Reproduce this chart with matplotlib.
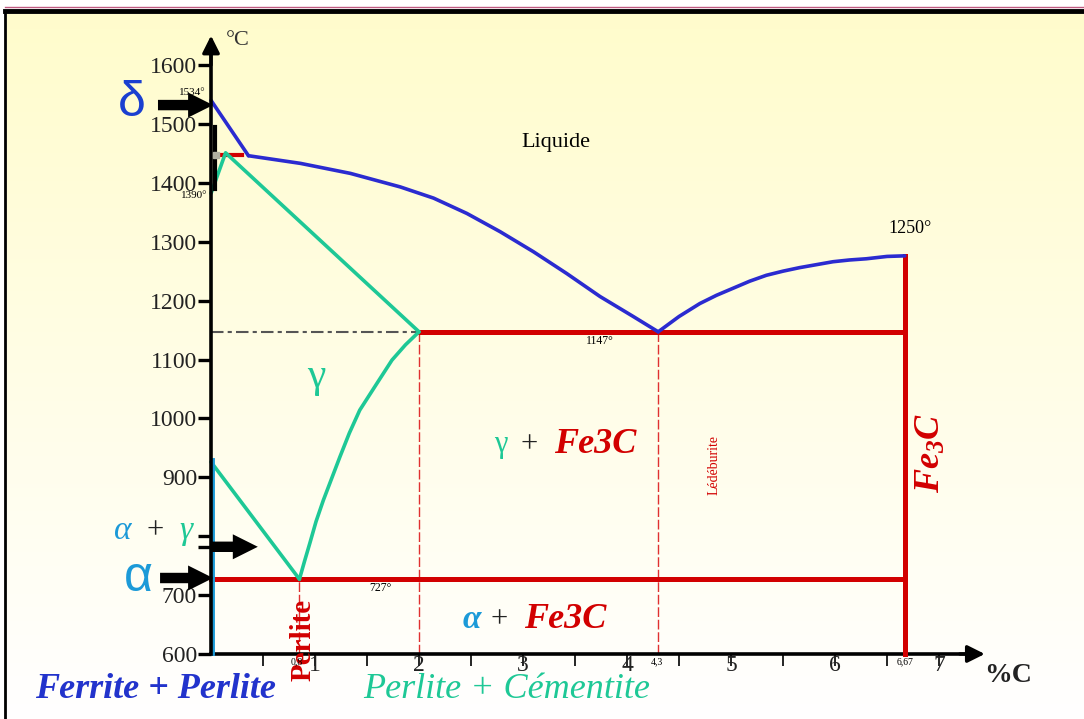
import numpy as np
import matplotlib.pyplot as plt
from matplotlib.lines import Line2D

plt.rcParams['font.family'] = ['Liberation Serif', 'DejaVu Serif']
plt.rcParams['mathtext.default'] = 'regular'

# axes ticks (800 is covered by the alpha + gamma label)
y_ticks = [600, 700, 800, 900, 1000, 1100, 1200, 1300, 1400, 1500, 1600]
y_labels = ['600', '700', '', '900', '1000', '1100', '1200', '1300', '1400', '1500', '1600']
y_extra = [782]
x_major = [1, 2, 3, 4, 5, 6, 7]
x_minor = [0.5, 1.5, 2.5, 3.5, 4.5, 5.5, 6.5]

# liquidus (delta part, left branch, right branch)
delta_x = [0, 0.36]
delta_t = [1540, 1446]
liq_x = [0.36, 0.86, 1.34, 1.82, 2.14, 2.46, 2.78, 3.10, 3.42, 3.74, 3.90, 4.06, 4.18, 4.3]
liq_t = [1446, 1433, 1416, 1393, 1374, 1348, 1317, 1283, 1246, 1207, 1190, 1173, 1160, 1147]
liq2_x = [4.3, 4.5, 4.70, 4.86, 5.02, 5.18, 5.34, 5.50, 5.66, 5.82, 5.98, 6.14, 6.30, 6.50, 6.67]
liq2_t = [1147, 1173, 1195, 1209, 1221, 1233, 1243, 1250, 1256, 1261, 1266, 1269, 1271, 1275, 1276]

# austenite boundaries
sol_x = [0, 0.14, 2]
sol_t = [1382, 1451, 1147]
acm_x = [2, 1.87, 1.74, 1.59, 1.43, 1.33, 1.24, 1.16, 1.08, 1.01, 0.95, 0.90, 0.85]
acm_t = [1147, 1125, 1099, 1058, 1014, 975, 935, 898, 861, 825, 788, 758, 727]
a3_x = [0, 0.85]
a3_t = [926, 727]
ferrite_x = [0.02, 0.02]
ferrite_t = [929, 600]

# invariant lines
peri_t = 1447
eutectic_t = 1147
eutectoid_t = 727
eutectoid_c = 0.85
sat_c = 2
eutectic_c = 4.3
fe3c_c = 6.67
fe3c_top = 1276

blue = '#2b2bd0'
lblue = '#1c9ad8'
green = '#1ec896'
red = '#d20000'

fig = plt.figure(figsize=(10.84, 7.19), dpi=100)
fig.patch.set_facecolor('white')
ax = fig.add_axes([0, 0, 1, 1])

# background gradient
t = np.linspace(0, 1, 256)[:, None, None]
top = np.array([1.0, 0.988, 0.80])
grad = top * (1 - t) + np.ones(3) * t
ax.imshow(grad, extent=[-1.96, 8.394, 489.6, 1686.6], aspect='auto', zorder=0)

ax.set_xlim(-2.029, 8.394)
ax.set_ylim(489.6, 1710.4)

# frame
fig.add_artist(Line2D([5 / 1084, 1], [1 - 7 / 719] * 2, color='#c05a80', lw=1))
fig.add_artist(Line2D([5 / 1084, 1], [1 - 11 / 719] * 2, color='black', lw=3.5))
fig.add_artist(Line2D([5 / 1084] * 2, [0, 1 - 11 / 719], color='black', lw=2))

# axes
for s in ['top', 'right']:
    ax.spines[s].set_visible(False)
ax.spines['left'].set_position(('data', 0))
ax.spines['left'].set_bounds(600, 1625)
ax.spines['bottom'].set_position(('data', 600))
ax.spines['bottom'].set_bounds(0, 7.3)
ax.spines['left'].set_linewidth(2.6)
ax.spines['bottom'].set_linewidth(2.6)
ax.spines['left'].set_zorder(5)
ax.annotate('', xy=(0, 1650), xytext=(0, 1600),
            arrowprops=dict(arrowstyle='-|>', mutation_scale=26, lw=2.4,
                            color='black', shrinkA=0, shrinkB=0))
ax.annotate('', xy=(7.44, 600), xytext=(7.2, 600),
            arrowprops=dict(arrowstyle='-|>', mutation_scale=26, lw=2.4,
                            color='black', shrinkA=0, shrinkB=0))

ax.set_yticks(y_ticks, labels=y_labels)
ax.set_yticks(y_extra, minor=True)
ax.tick_params(axis='y', which='both', direction='out', length=9.5, width=2.4,
               labelsize=17, pad=0.5, labelcolor='#222222')
ax.set_xticks(x_major, labels=[str(v) for v in x_major])
ax.set_xticks(x_minor, minor=True)
ax.tick_params(axis='x', which='both', direction='out', length=8.6, width=1.2,
               labelsize=17, pad=-8, labelcolor='#222222')

# phase lines
kw = dict(lw=2.6, zorder=4, solid_joinstyle='round', solid_capstyle='round')
ax.plot(delta_x, delta_t, color=blue, **kw)
ax.plot(liq_x, liq_t, color=blue, **kw)
ax.plot(liq2_x, liq2_t, color=blue, **kw)
ax.plot([0.05, 0.3], [peri_t, peri_t], color=red, lw=3, zorder=3)
ax.plot([0.035, 0.035], [1390, 1495], color='black', lw=3, zorder=5)
ax.plot(0.045, peri_t, marker='s', ms=4, color='#b0b0a0', zorder=6)

ax.plot(sol_x, sol_t, color=green, **kw)
ax.plot(acm_x, acm_t, color=green, **kw)
ax.plot(a3_x, a3_t, color=green, **kw)
ax.plot(ferrite_x, ferrite_t, color=lblue, lw=2.8, zorder=4)

ax.plot([0, sat_c], [eutectic_t, eutectic_t], color='#555555', lw=1.5,
        linestyle=(0, (6, 2, 2, 2)), zorder=3)
ax.plot([sat_c, fe3c_c], [eutectic_t, eutectic_t], color=red, lw=3.6, zorder=3)
ax.plot([0, fe3c_c], [eutectoid_t, eutectoid_t], color=red, lw=3.6, zorder=3)
ax.plot([fe3c_c, fe3c_c], [600, fe3c_top], color=red, lw=3.6, zorder=3)
for c, t0 in [(sat_c, eutectic_t), (eutectic_c, eutectic_t), (eutectoid_c, eutectoid_t)]:
    ax.plot([c, c], [600, t0], color='#e03030', lw=1, linestyle=(0, (7, 2)), zorder=2)

# arrows
arrow = dict(arrowstyle='simple,head_length=0.6,head_width=0.6,tail_width=0.25',
             mutation_scale=30, color='black', lw=0, shrinkA=0, shrinkB=0)
ax.annotate('', xy=(0.02, 1532), xytext=(-0.51, 1532), arrowprops=arrow, zorder=6)
ax.annotate('', xy=(0.02, 729), xytext=(-0.49, 729), arrowprops=arrow, zorder=6)
ax.annotate('', xy=(0.45, 782), xytext=(0.0, 782), arrowprops=arrow, zorder=6)

# labels
ax.text(0.26, 1642, '°C', fontsize=16, ha='center', va='center', color='#333333')
ax.text(-0.76, 1535, 'δ', fontsize=36, ha='center', va='center', color='#1a3fd0',
        family='Liberation Sans')
ax.text(-0.70, 729, 'α', fontsize=36, ha='center', va='center', color=lblue,
        family='Liberation Sans')
ax.text(-0.18, 1554, '1534°', fontsize=8, ha='center', va='center')
ax.text(-0.16, 1378, '1390°', fontsize=8, ha='center', va='center')
ax.text(3.32, 1469, 'Liquide', fontsize=16, ha='center', va='center')
ax.text(6.72, 1323, '1250°', fontsize=13, ha='center', va='center')
ax.text(3.74, 1131, '1147°', fontsize=8.5, ha='center', va='center')
ax.text(1.63, 712, '727°', fontsize=8.5, ha='center', va='center')
ax.text(1.01, 1070, 'γ', fontsize=30, ha='center', va='center', color=green)

ax.text(2.79, 955, 'γ', fontsize=22, ha='center', va='center', color=green)
ax.text(3.06, 955, '+', fontsize=22, ha='center', va='center', color='#222222')
ax.text(3.69, 955, 'Fe3C', fontsize=26, ha='center', va='center', color=red,
        style='italic', weight='bold')

ax.text(2.51, 658, 'α', fontsize=24, ha='center', va='center', color=lblue,
        style='italic', weight='bold')
ax.text(2.77, 658, '+', fontsize=22, ha='center', va='center', color='#222222')
ax.text(3.41, 658, 'Fe3C', fontsize=26, ha='center', va='center', color=red,
        style='italic', weight='bold')

ax.text(-0.846, 810, 'α', fontsize=24, ha='center', va='center', color=lblue, style='italic')
ax.text(-0.538, 810, '+', fontsize=22, ha='center', va='center', color='#222222')
ax.text(-0.24, 810, 'γ', fontsize=24, ha='center', va='center', color=green, style='italic')

ax.text(4.84, 921, 'Lédéburite', fontsize=10, rotation=90, ha='center', va='center', color=red)
ax.text(6.93, 941, 'Fe$_3$C', fontsize=26, rotation=90, ha='center', va='center', color=red,
        style='italic', weight='bold')
ax.text(0.885, 624, 'Perlite', fontsize=21, rotation=90, ha='center', va='center', color=red,
        weight='bold')

ax.text(0.82, 586, '0,8', fontsize=7, ha='center', va='center')
ax.text(4.29, 586, '4,3', fontsize=7, ha='center', va='center')
ax.text(6.67, 586, '6,67', fontsize=7, ha='center', va='center')

ax.text(-0.53, 539, 'Ferrite + Perlite', fontsize=26, ha='center', va='center', color='#2233cc',
        style='italic', weight='bold')
ax.text(2.84, 539, 'Perlite + Cémentite', fontsize=26, ha='center', va='center', color=green,
        style='italic')
ax.text(7.66, 564, '%C', fontsize=20, ha='center', va='center', weight='bold', color='#222222')

fig.savefig('out.png', dpi=100)
